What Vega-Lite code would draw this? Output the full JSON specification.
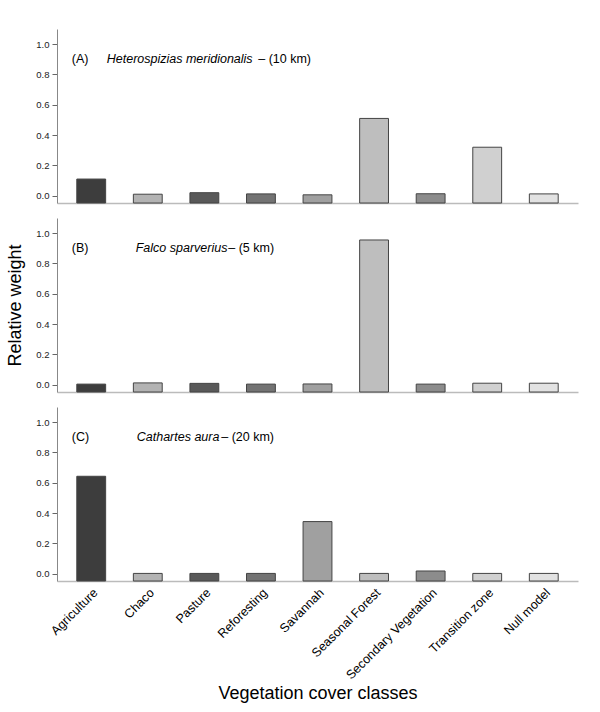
{
  "$schema": "https://vega.github.io/schema/vega-lite/v6.json",
  "background": "white",
  "padding": {"left": 6, "top": 29, "right": 5, "bottom": 5},
  "spacing": 14,
  "datasets": {
    "weights": [
      {"panel": "A", "cover": "Agriculture", "weight": 0.11},
      {"panel": "A", "cover": "Chaco", "weight": 0.01},
      {"panel": "A", "cover": "Pasture", "weight": 0.02},
      {"panel": "A", "cover": "Reforesting", "weight": 0.012},
      {"panel": "A", "cover": "Savannah", "weight": 0.006},
      {"panel": "A", "cover": "Seasonal Forest", "weight": 0.51},
      {"panel": "A", "cover": "Secondary Vegetation", "weight": 0.013},
      {"panel": "A", "cover": "Transition zone", "weight": 0.32},
      {"panel": "A", "cover": "Null model", "weight": 0.012},
      {"panel": "B", "cover": "Agriculture", "weight": 0.004},
      {"panel": "B", "cover": "Chaco", "weight": 0.012},
      {"panel": "B", "cover": "Pasture", "weight": 0.009},
      {"panel": "B", "cover": "Reforesting", "weight": 0.004},
      {"panel": "B", "cover": "Savannah", "weight": 0.005},
      {"panel": "B", "cover": "Seasonal Forest", "weight": 0.955},
      {"panel": "B", "cover": "Secondary Vegetation", "weight": 0.004},
      {"panel": "B", "cover": "Transition zone", "weight": 0.01},
      {"panel": "B", "cover": "Null model", "weight": 0.01},
      {"panel": "C", "cover": "Agriculture", "weight": 0.643},
      {"panel": "C", "cover": "Chaco", "weight": 0.002},
      {"panel": "C", "cover": "Pasture", "weight": 0.002},
      {"panel": "C", "cover": "Reforesting", "weight": 0.002},
      {"panel": "C", "cover": "Savannah", "weight": 0.344},
      {"panel": "C", "cover": "Seasonal Forest", "weight": 0.002},
      {"panel": "C", "cover": "Secondary Vegetation", "weight": 0.018},
      {"panel": "C", "cover": "Transition zone", "weight": 0.002},
      {"panel": "C", "cover": "Null model", "weight": 0.002}
    ],
    "labels": [
      {"panel": "A", "tag": "(A)", "species": "Heterospizias meridionalis", "buffer": "– (10 km)"},
      {"panel": "B", "tag": "(B)", "species": "Falco sparverius", "buffer": "– (5 km)"},
      {"panel": "C", "tag": "(C)", "species": "Cathartes aura", "buffer": "– (20 km)"}
    ]
  },
  "vconcat": [
    {
      "width": 521,
      "height": 174,
      "layer": [
        {
          "data": {"name": "weights"},
          "transform": [{"filter": "datum.panel == 'A'"}],
          "mark": {"type": "bar", "stroke": "#444444", "strokeWidth": 1},
          "encoding": {
            "x": {
              "field": "cover", "type": "nominal", "sort": null,
              "scale": {"paddingInner": 0.49, "paddingOuter": 0.35},
              "axis": {"labels": false, "ticks": false, "title": null}
            },
            "y": {
              "field": "weight", "type": "quantitative",
              "scale": {"domain": [-0.048, 1.1], "nice": false, "zero": false},
              "axis": {"values": [0, 0.2, 0.4, 0.6, 0.8, 1.0], "tickCount": 12, "format": ".1f", "title": null}
            },
            "y2": {"datum": -0.048},
            "fill": {
              "field": "cover", "type": "nominal", "legend": null,
              "scale": {
                "domain": ["Agriculture", "Chaco", "Pasture", "Reforesting", "Savannah", "Seasonal Forest", "Secondary Vegetation", "Transition zone", "Null model"],
                "range": ["#3d3d3d", "#b3b3b3", "#595959", "#737373", "#a0a0a0", "#bebebe", "#8c8c8c", "#d0d0d0", "#e2e2e2"]
              }
            }
          }
        },
        {
          "data": {"name": "labels"},
          "transform": [{"filter": "datum.panel == 'A'"}],
          "mark": {"type": "text", "align": "left", "baseline": "middle", "dx": -19.5, "fontSize": 12.5},
          "encoding": {"x": {"datum": "Agriculture", "type": "nominal"}, "y": {"datum": 0.9}, "text": {"field": "tag"}}
        },
        {
          "data": {"name": "labels"},
          "transform": [{"filter": "datum.panel == 'A'"}],
          "mark": {"type": "text", "align": "left", "baseline": "middle", "dx": 15.5, "fontSize": 12.5, "fontStyle": "italic"},
          "encoding": {"x": {"datum": "Agriculture", "type": "nominal"}, "y": {"datum": 0.9}, "text": {"field": "species"}}
        },
        {
          "data": {"name": "labels"},
          "transform": [{"filter": "datum.panel == 'A'"}],
          "mark": {"type": "text", "align": "left", "baseline": "middle", "dx": 167, "fontSize": 12.5},
          "encoding": {"x": {"datum": "Agriculture", "type": "nominal"}, "y": {"datum": 0.9}, "text": {"field": "buffer"}}
        }
      ]
    },
    {
      "width": 521,
      "height": 174,
      "layer": [
        {
          "data": {"name": "weights"},
          "transform": [{"filter": "datum.panel == 'B'"}],
          "mark": {"type": "bar", "stroke": "#444444", "strokeWidth": 1},
          "encoding": {
            "x": {
              "field": "cover", "type": "nominal", "sort": null,
              "scale": {"paddingInner": 0.49, "paddingOuter": 0.35},
              "axis": {"labels": false, "ticks": false, "title": null}
            },
            "y": {
              "field": "weight", "type": "quantitative",
              "scale": {"domain": [-0.048, 1.1], "nice": false, "zero": false},
              "axis": {"values": [0, 0.2, 0.4, 0.6, 0.8, 1.0], "tickCount": 12, "format": ".1f", "title": "Relative weight", "titleFontSize": 18, "titlePadding": 11}
            },
            "y2": {"datum": -0.048},
            "fill": {
              "field": "cover", "type": "nominal", "legend": null,
              "scale": {
                "domain": ["Agriculture", "Chaco", "Pasture", "Reforesting", "Savannah", "Seasonal Forest", "Secondary Vegetation", "Transition zone", "Null model"],
                "range": ["#3d3d3d", "#b3b3b3", "#595959", "#737373", "#a0a0a0", "#bebebe", "#8c8c8c", "#d0d0d0", "#e2e2e2"]
              }
            }
          }
        },
        {
          "data": {"name": "labels"},
          "transform": [{"filter": "datum.panel == 'B'"}],
          "mark": {"type": "text", "align": "left", "baseline": "middle", "dx": -19.5, "fontSize": 12.5},
          "encoding": {"x": {"datum": "Agriculture", "type": "nominal"}, "y": {"datum": 0.9}, "text": {"field": "tag"}}
        },
        {
          "data": {"name": "labels"},
          "transform": [{"filter": "datum.panel == 'B'"}],
          "mark": {"type": "text", "align": "left", "baseline": "middle", "dx": 44.5, "fontSize": 12.5, "fontStyle": "italic"},
          "encoding": {"x": {"datum": "Agriculture", "type": "nominal"}, "y": {"datum": 0.9}, "text": {"field": "species"}}
        },
        {
          "data": {"name": "labels"},
          "transform": [{"filter": "datum.panel == 'B'"}],
          "mark": {"type": "text", "align": "left", "baseline": "middle", "dx": 137, "fontSize": 12.5},
          "encoding": {"x": {"datum": "Agriculture", "type": "nominal"}, "y": {"datum": 0.9}, "text": {"field": "buffer"}}
        }
      ]
    },
    {
      "width": 521,
      "height": 174,
      "layer": [
        {
          "data": {"name": "weights"},
          "transform": [{"filter": "datum.panel == 'C'"}],
          "mark": {"type": "bar", "stroke": "#444444", "strokeWidth": 1},
          "encoding": {
            "x": {
              "field": "cover", "type": "nominal", "sort": null,
              "scale": {"paddingInner": 0.49, "paddingOuter": 0.35},
              "axis": {"labelAngle": -45, "labelFontSize": 12.5, "labelColor": "black", "ticks": false, "labelPadding": 5, "title": "Vegetation cover classes", "titleFontSize": 18, "titlePadding": 3}
            },
            "y": {
              "field": "weight", "type": "quantitative",
              "scale": {"domain": [-0.048, 1.1], "nice": false, "zero": false},
              "axis": {"values": [0, 0.2, 0.4, 0.6, 0.8, 1.0], "tickCount": 12, "format": ".1f", "title": null}
            },
            "y2": {"datum": -0.048},
            "fill": {
              "field": "cover", "type": "nominal", "legend": null,
              "scale": {
                "domain": ["Agriculture", "Chaco", "Pasture", "Reforesting", "Savannah", "Seasonal Forest", "Secondary Vegetation", "Transition zone", "Null model"],
                "range": ["#3d3d3d", "#b3b3b3", "#595959", "#737373", "#a0a0a0", "#bebebe", "#8c8c8c", "#d0d0d0", "#e2e2e2"]
              }
            }
          }
        },
        {
          "data": {"name": "labels"},
          "transform": [{"filter": "datum.panel == 'C'"}],
          "mark": {"type": "text", "align": "left", "baseline": "middle", "dx": -19.5, "fontSize": 12.5},
          "encoding": {"x": {"datum": "Agriculture", "type": "nominal"}, "y": {"datum": 0.9}, "text": {"field": "tag"}}
        },
        {
          "data": {"name": "labels"},
          "transform": [{"filter": "datum.panel == 'C'"}],
          "mark": {"type": "text", "align": "left", "baseline": "middle", "dx": 45.5, "fontSize": 12.5, "fontStyle": "italic"},
          "encoding": {"x": {"datum": "Agriculture", "type": "nominal"}, "y": {"datum": 0.9}, "text": {"field": "species"}}
        },
        {
          "data": {"name": "labels"},
          "transform": [{"filter": "datum.panel == 'C'"}],
          "mark": {"type": "text", "align": "left", "baseline": "middle", "dx": 130, "fontSize": 12.5},
          "encoding": {"x": {"datum": "Agriculture", "type": "nominal"}, "y": {"datum": 0.9}, "text": {"field": "buffer"}}
        }
      ]
    }
  ],
  "config": {
    "font": "Liberation Sans",
    "view": {"stroke": null},
    "text": {"font": "Liberation Sans", "color": "black"},
    "axis": {
      "labelFont": "Liberation Sans",
      "titleFont": "Liberation Sans",
      "titleFontWeight": "normal",
      "titleColor": "black",
      "grid": false
    },
    "axisY": {
      "labelFontSize": 9.5,
      "labelColor": "#222222",
      "labelOverlap": false,
      "tickSize": 5,
      "tickColor": "#666666",
      "domainColor": "#888888",
      "labelPadding": 3
    },
    "axisX": {
      "domainColor": "#bbbbbb",
      "domainWidth": 1.5
    }
  }
}
